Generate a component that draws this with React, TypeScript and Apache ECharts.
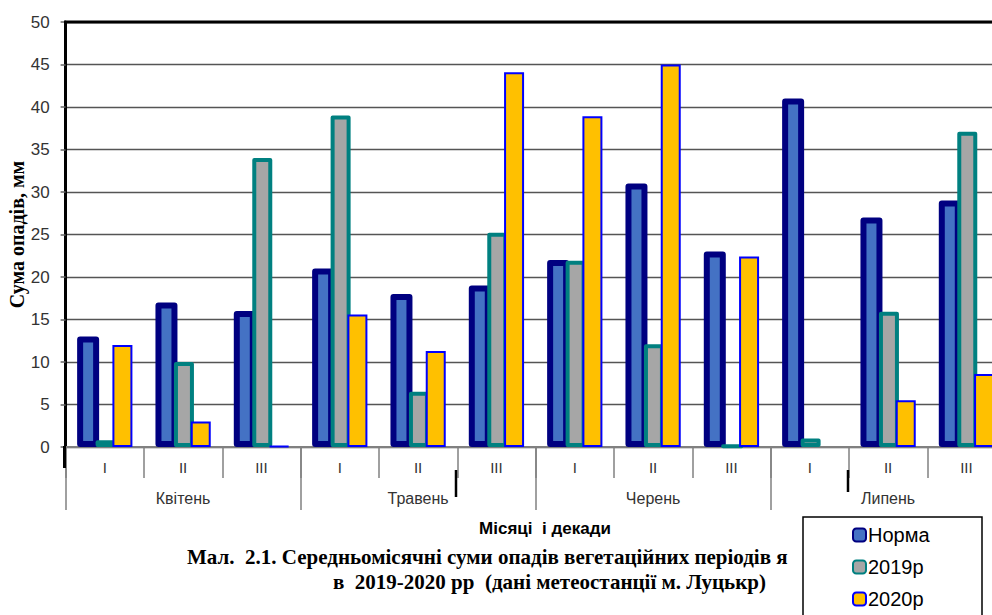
import React, { useEffect, useRef } from "react";
import * as echarts from "echarts";

const decades = ["I", "II", "III", "I", "II", "III", "I", "II", "III", "I", "II", "III"];
const months = ["Квітень", "Травень", "Черень", "Липень"];
const norma = [13, 17, 16, 21, 18, 19, 22, 31, 23, 41, 27, 29];
const y2019 = [0.8, 10, 34, 39, 6.5, 25.2, 21.9, 12.1, 0.2, 1.0, 15.9, 37.1];
const y2020 = [12, 3, 0.1, 15.6, 11.3, 44.1, 38.9, 45, 22.4, null, 5.5, 8.6];
const seriesNames = ["Норма", "2019р", "2020р"];

const SANS = "Liberation Sans, Arial, sans-serif";
const SERIF = "Liberation Serif, Times New Roman, serif";

export default function App() {
  const ref = useRef<HTMLDivElement>(null);
  useEffect(() => {
    if (!ref.current) return;
    const chart = echarts.init(ref.current, null, { renderer: "svg" });
    chart.setOption({
      animation: false,
      backgroundColor: "#fff",
      grid: { left: 65.6, top: 22, width: 940, height: 425, containLabel: false, outerBoundsMode: "none" },
      legend: {
        orient: "vertical",
        left: 852,
        top: 525,
        height: 110,
        padding: 0,
        itemWidth: 13,
        itemHeight: 13,
        itemGap: 12,
        z: 20,
        data: seriesNames,
        textStyle: { fontFamily: SANS, fontSize: 20, color: "#000", padding: [0, 0, 0, -3] },
      },
      xAxis: [
        {
          type: "category",
          data: decades,
          position: "bottom",
          axisLine: { show: true, lineStyle: { color: "#808080", width: 2 } },
          axisTick: { show: true, length: 31, lineStyle: { color: "#808080", width: 1.5 } },
          axisLabel: { fontFamily: SANS, fontSize: 15, color: "#333", margin: 13 },
          splitLine: { show: false },
        },
        {
          type: "category",
          data: months,
          position: "bottom",
          gridIndex: 0,
          axisLine: { show: false },
          axisTick: { show: true, length: 63, lineStyle: { color: "#808080", width: 1.5 } },
          axisLabel: { fontFamily: SANS, fontSize: 16, color: "#333", margin: 43 },
          splitLine: { show: false },
        },
      ],
      yAxis: {
        type: "value",
        min: 0,
        max: 50,
        interval: 5,
        name: "Сума опадів, мм",
        nameLocation: "middle",
        nameGap: 39,
        nameMoveOverlap: false,
        nameRotate: 90,
        nameTextStyle: { fontFamily: SERIF, fontSize: 20, fontWeight: "bold", color: "#000" },
        axisLine: { show: true, lineStyle: { color: "#000", width: 3 } },
        axisTick: { show: true, length: 5, lineStyle: { color: "#666", width: 1.5 } },
        axisLabel: { fontFamily: SANS, fontSize: 17, color: "#333", margin: 16 },
        splitLine: { show: true, lineStyle: { color: "#555", width: 1.3 } },
      },
      series: [
        {
          name: seriesNames[0],
          type: "bar",
          data: norma,
          barWidth: 22,
          barGap: "-16%",
          itemStyle: { color: "#4472C4", borderColor: "#000080", borderWidth: 6, borderJoin: "round" },
        },
        {
          name: seriesNames[1],
          type: "bar",
          data: y2019,
          barWidth: 20,
          barGap: "-16%",
          itemStyle: { color: "#A6A6A6", borderColor: "#008080", borderWidth: 4, borderJoin: "round" },
        },
        {
          name: seriesNames[2],
          type: "bar",
          data: y2020,
          barWidth: 20,
          barGap: "-16%",
          itemStyle: { color: "#FFC000", borderColor: "#0000FF", borderWidth: 2 },
        },
      ],
      graphic: [
        { type: "line", z: 10, shape: { x1: 64, y1: 22, x2: 992, y2: 22 }, style: { stroke: "#000", lineWidth: 3 } },
        { type: "line", z: 10, shape: { x1: 64.5, y1: 446, x2: 64.5, y2: 468 }, style: { stroke: "#000", lineWidth: 3 } },
        { type: "line", z: 10, shape: { x1: 456, y1: 470, x2: 456, y2: 497 }, style: { stroke: "#000", lineWidth: 2.5 } },
        { type: "line", z: 10, shape: { x1: 848, y1: 470, x2: 848, y2: 492 }, style: { stroke: "#000", lineWidth: 2.5 } },
        {
          type: "text",
          z: 1,
          x: 545,
          y: 528,
          style: { text: "Місяці  і декади", fontFamily: SANS, fontSize: 17, fontWeight: "bold", fill: "#000", align: "center", verticalAlign: "middle" },
        },
        {
          type: "text",
          z: 1,
          x: 187,
          y: 557,
          style: { text: "Мал.  2.1. Середньомісячні суми опадів вегетаційних періодів я", fontFamily: SERIF, fontSize: 21, fontWeight: "bold", fill: "#000", align: "left", verticalAlign: "middle" },
        },
        {
          type: "text",
          z: 1,
          x: 333,
          y: 582,
          style: { text: "в  2019-2020 рр  (дані метеостанції м. Луцькр)", fontFamily: SERIF, fontSize: 21, fontWeight: "bold", fill: "#000", align: "left", verticalAlign: "middle" },
        },
        { type: "rect", z: 5, shape: { x: 803, y: 517, width: 179, height: 130 }, style: { fill: "#fff", stroke: "#000", lineWidth: 1.5 } },
      ],
    });
    return () => chart.dispose();
  }, []);
  return <div ref={ref} style={{ position: "fixed", left: 0, top: 0, width: 992, height: 615 }} />;
}
